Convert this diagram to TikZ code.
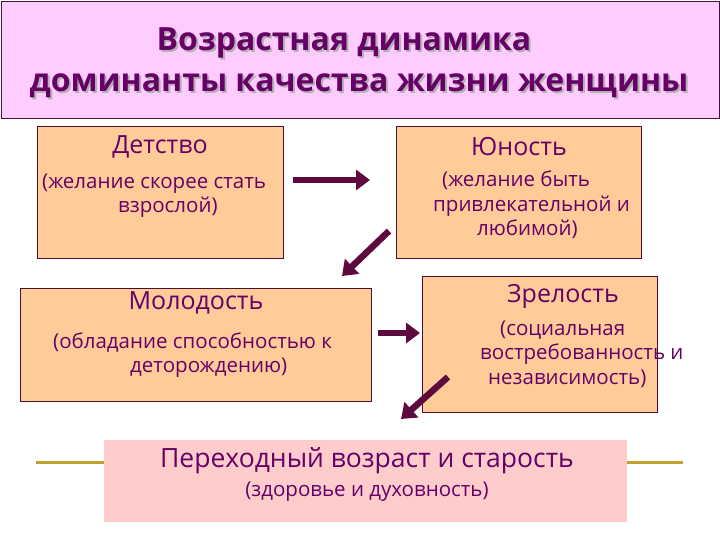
\documentclass[tikz,border=0pt]{standalone}
\usepackage{fontspec}
\setmainfont{Open Sans}
\usetikzlibrary{arrows.meta}
\definecolor{titlebg}{HTML}{FFCCFF}
\definecolor{ink}{HTML}{660066}
\definecolor{boxbg}{HTML}{FFCC99}
\definecolor{lastbg}{HTML}{FFCCCC}
\definecolor{arrowc}{HTML}{5E0A3E}
\definecolor{gold}{HTML}{C0A030}
\definecolor{edge}{HTML}{4A1030}
\tikzset{
  stagebox/.style={draw=edge, line width=0.8pt, fill=boxbg, anchor=north west, inner sep=0pt},
  head/.style={text=ink, font=\fontsize{25}{28}\selectfont},
  body/.style={text=ink, font=\fontsize{20.5}{24.5}\selectfont, align=left, anchor=base west, inner sep=0pt},
  ttl/.style={font=\bfseries\fontsize{32}{36}\selectfont},
  flow/.style={draw=arrowc, line width=6.5pt, -{Triangle[length=14pt,width=20pt]}},
}
\begin{document}
\begin{tikzpicture}[x=1pt,y=-1pt]
\useasboundingbox (0,0) rectangle (720,540);
\fill[white] (0,0) rectangle (720,540);
% title
\node[draw=edge, line width=1pt, fill=titlebg, anchor=north west, minimum width=718pt, minimum height=117pt, inner sep=0pt] (title) at (1,1) {};
\foreach \dx/\col in {2/gray!60, 0/ink}{
  \node[ttl, text=\col] (t1\dx) at (344+\dx,43+\dx) {Возрастная динамика};
  \node[ttl, text=\col] (t2\dx) at (359+\dx,86+\dx) {доминанты качества жизни женщины};
}
% gold line
\coordinate (g1) at (36,462);
\coordinate (g2) at (683,462);
\draw[gold, line width=3pt] (g1) -- (g2);
% boxes
\node[stagebox, minimum width=246pt, minimum height=132pt] (det) at (37,126) {};
\node[stagebox, minimum width=245pt, minimum height=132pt] (yun) at (396,126) {};
\node[stagebox, minimum width=351pt, minimum height=113pt] (mol) at (20,288) {};
\node[stagebox, minimum width=235pt, minimum height=136pt] (zre) at (422,276) {};
\node[fill=lastbg, anchor=north west, minimum width=523pt, minimum height=82pt, inner sep=0pt] (old) at (104,440) {};
% texts
\node[head] (hdet) at (160,147) {Детство};
\node[body] (bdet) at (42,212.5) {(желание скорее стать\\\hspace*{76pt}взрослой)};
\node[head] (hyun) at (519,147) {Юность};
\node[body] (byun) at (433,236) {\hspace*{9pt}(желание быть\\привлекательной и\\\hspace*{44pt}любимой)};
\node[head] (hmol) at (196,303) {Молодость};
\node[body] (bmol) at (53,372.5) {(обладание способностью к\\\hspace*{77pt}деторождению)};
\node[head] (hzre) at (563,296) {Зрелость};
\node[body] (bzre) at (480,384) {\hspace*{20pt}(социальная\\востребованность и\\\hspace*{8pt}независимость)};
\node[text=ink, font=\fontsize{26.5}{30}\selectfont] (hold) at (367,461) {Переходный возраст и старость};
\node[text=ink, font=\fontsize{20.5}{24}\selectfont] (bold) at (367,492) {(здоровье и духовность)};
% arrows
\coordinate (a1s) at (293,180); \coordinate (a1e) at (370,180);
\coordinate (a2s) at (389,231); \coordinate (a2e) at (342,276);
\coordinate (a3s) at (378,333); \coordinate (a3e) at (420,333);
\coordinate (a4s) at (448,377); \coordinate (a4e) at (401,419);
\draw[flow] (a1s) -- (a1e);
\draw[flow] (a2s) -- (a2e);
\draw[flow] (a3s) -- (a3e);
\draw[flow] (a4s) -- (a4e);
\end{tikzpicture}
\end{document}
